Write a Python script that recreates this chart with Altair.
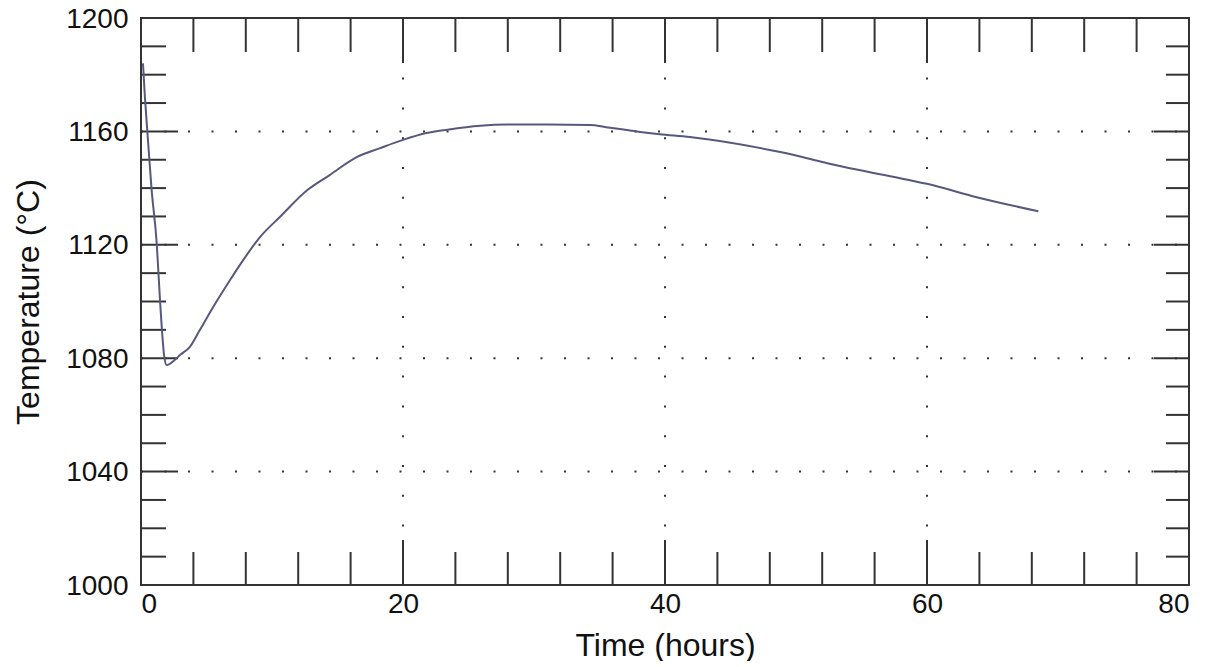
import altair as alt
import pandas as pd

# Curve data
time_h = [0.15, 0.3, 0.5, 0.8, 1.2, 1.45, 1.78, 1.96, 2.6, 3.0, 3.7, 4.5, 5.5, 6.8, 7.8,
          9.1, 10.6, 12.7, 14.4, 16.5, 18.2, 20.0, 21.8, 23.4, 25.9, 28.0, 31.0, 34.3,
          35.5, 38.1, 39.6, 41.9, 45.0, 48.8, 53.6, 57.4, 60.0, 63.8, 68.5]
temp_c = [1184, 1172, 1159, 1140, 1120.5, 1100.5, 1080.4, 1077.6, 1079.5, 1081.2, 1083.8,
          1090, 1098, 1107.6, 1114.6, 1122.8, 1129.8, 1139.3, 1144.6, 1151, 1154, 1157,
          1159.4, 1160.6, 1162, 1162.4, 1162.4, 1162.3, 1161.5, 1159.8, 1159, 1158, 1156,
          1152.7, 1147.5, 1144, 1141.5, 1136.8, 1131.8]

x_labels = [0, 20, 40, 60, 80]
y_labels = [1000, 1040, 1080, 1120, 1160, 1200]
x_major = [20, 40, 60]
x_minor = [4, 8, 12, 16, 24, 28, 32, 36, 44, 48, 52, 56, 64, 68, 72, 76]
y_major = [1040, 1080, 1120, 1160]
y_minor = [1010, 1020, 1030, 1050, 1060, 1070, 1090, 1100, 1110,
           1130, 1140, 1150, 1170, 1180, 1190]

W, H = 1048, 567
FONT = "Liberation Sans"
INK = "#333333"

curve = pd.DataFrame({"t": time_h, "T": temp_c})
xs = alt.Scale(domain=[0, 80], nice=False, zero=False)
ys = alt.Scale(domain=[1000, 1200], nice=False, zero=False)

xaxis = alt.Axis(values=x_labels, title="Time (hours)", grid=False, ticks=False,
                 domain=False, labelPadding=5, titlePadding=12, format="d")
yaxis = alt.Axis(values=y_labels, title="Temperature (°C)", grid=False, ticks=False,
                 domain=False, labelPadding=13, titlePadding=20, format="d",
                 labelOffset=1)

def X():
    return alt.X("t:Q", scale=xs, axis=xaxis)

def Y():
    return alt.Y("T:Q", scale=ys, axis=yaxis)

line = alt.Chart(curve).mark_line(color="#58587f", strokeWidth=2,
                                  interpolate="monotone").encode(x=X(), y=Y())

hgrid = alt.Chart(pd.DataFrame({"T": y_major})).mark_rule(
    color=INK, strokeWidth=2, strokeDash=[2, 21.5]).encode(
    y=Y(), x=alt.value(0), x2=alt.value(W))
vgrid = alt.Chart(pd.DataFrame({"t": x_major})).mark_rule(
    color=INK, strokeWidth=2, strokeDash=[2, 27.8]).encode(
    x=X(), y=alt.value(0), y2=alt.value(H))

def xticks(vals, y, y2):
    return alt.Chart(pd.DataFrame({"t": vals})).mark_rule(color=INK, strokeWidth=2).encode(
        x=X(), y=alt.value(y), y2=alt.value(y2))

def yticks(vals, x, x2):
    return alt.Chart(pd.DataFrame({"T": vals})).mark_rule(color=INK, strokeWidth=2).encode(
        y=Y(), x=alt.value(x), x2=alt.value(x2))

layers = [
    hgrid, vgrid,
    xticks(x_minor, H, H - 33), xticks(x_minor, 0, 34),
    xticks(x_major, H, H - 45), xticks(x_major, 0, 45),
    yticks(y_minor, 0, 25), yticks(y_major, 0, 37),
    yticks(y_minor, W, W - 23), yticks(y_major, W, W - 35),
    line,
]

chart = alt.layer(*layers).properties(
    width=W, height=H,
    background="white",
    autosize=alt.AutoSizeParams(type="none"),
    padding={"left": 133, "top": 10, "right": 16, "bottom": 76},
).configure_view(stroke=INK, strokeWidth=2).configure_axis(
    labelFont=FONT, labelFontSize=28, labelColor="#111111",
    titleFont=FONT, titleFontSize=32, titleColor="#111111", titleFontWeight="normal",
)

chart.save("out.html", embed_options={"renderer": "svg", "actions": False})
